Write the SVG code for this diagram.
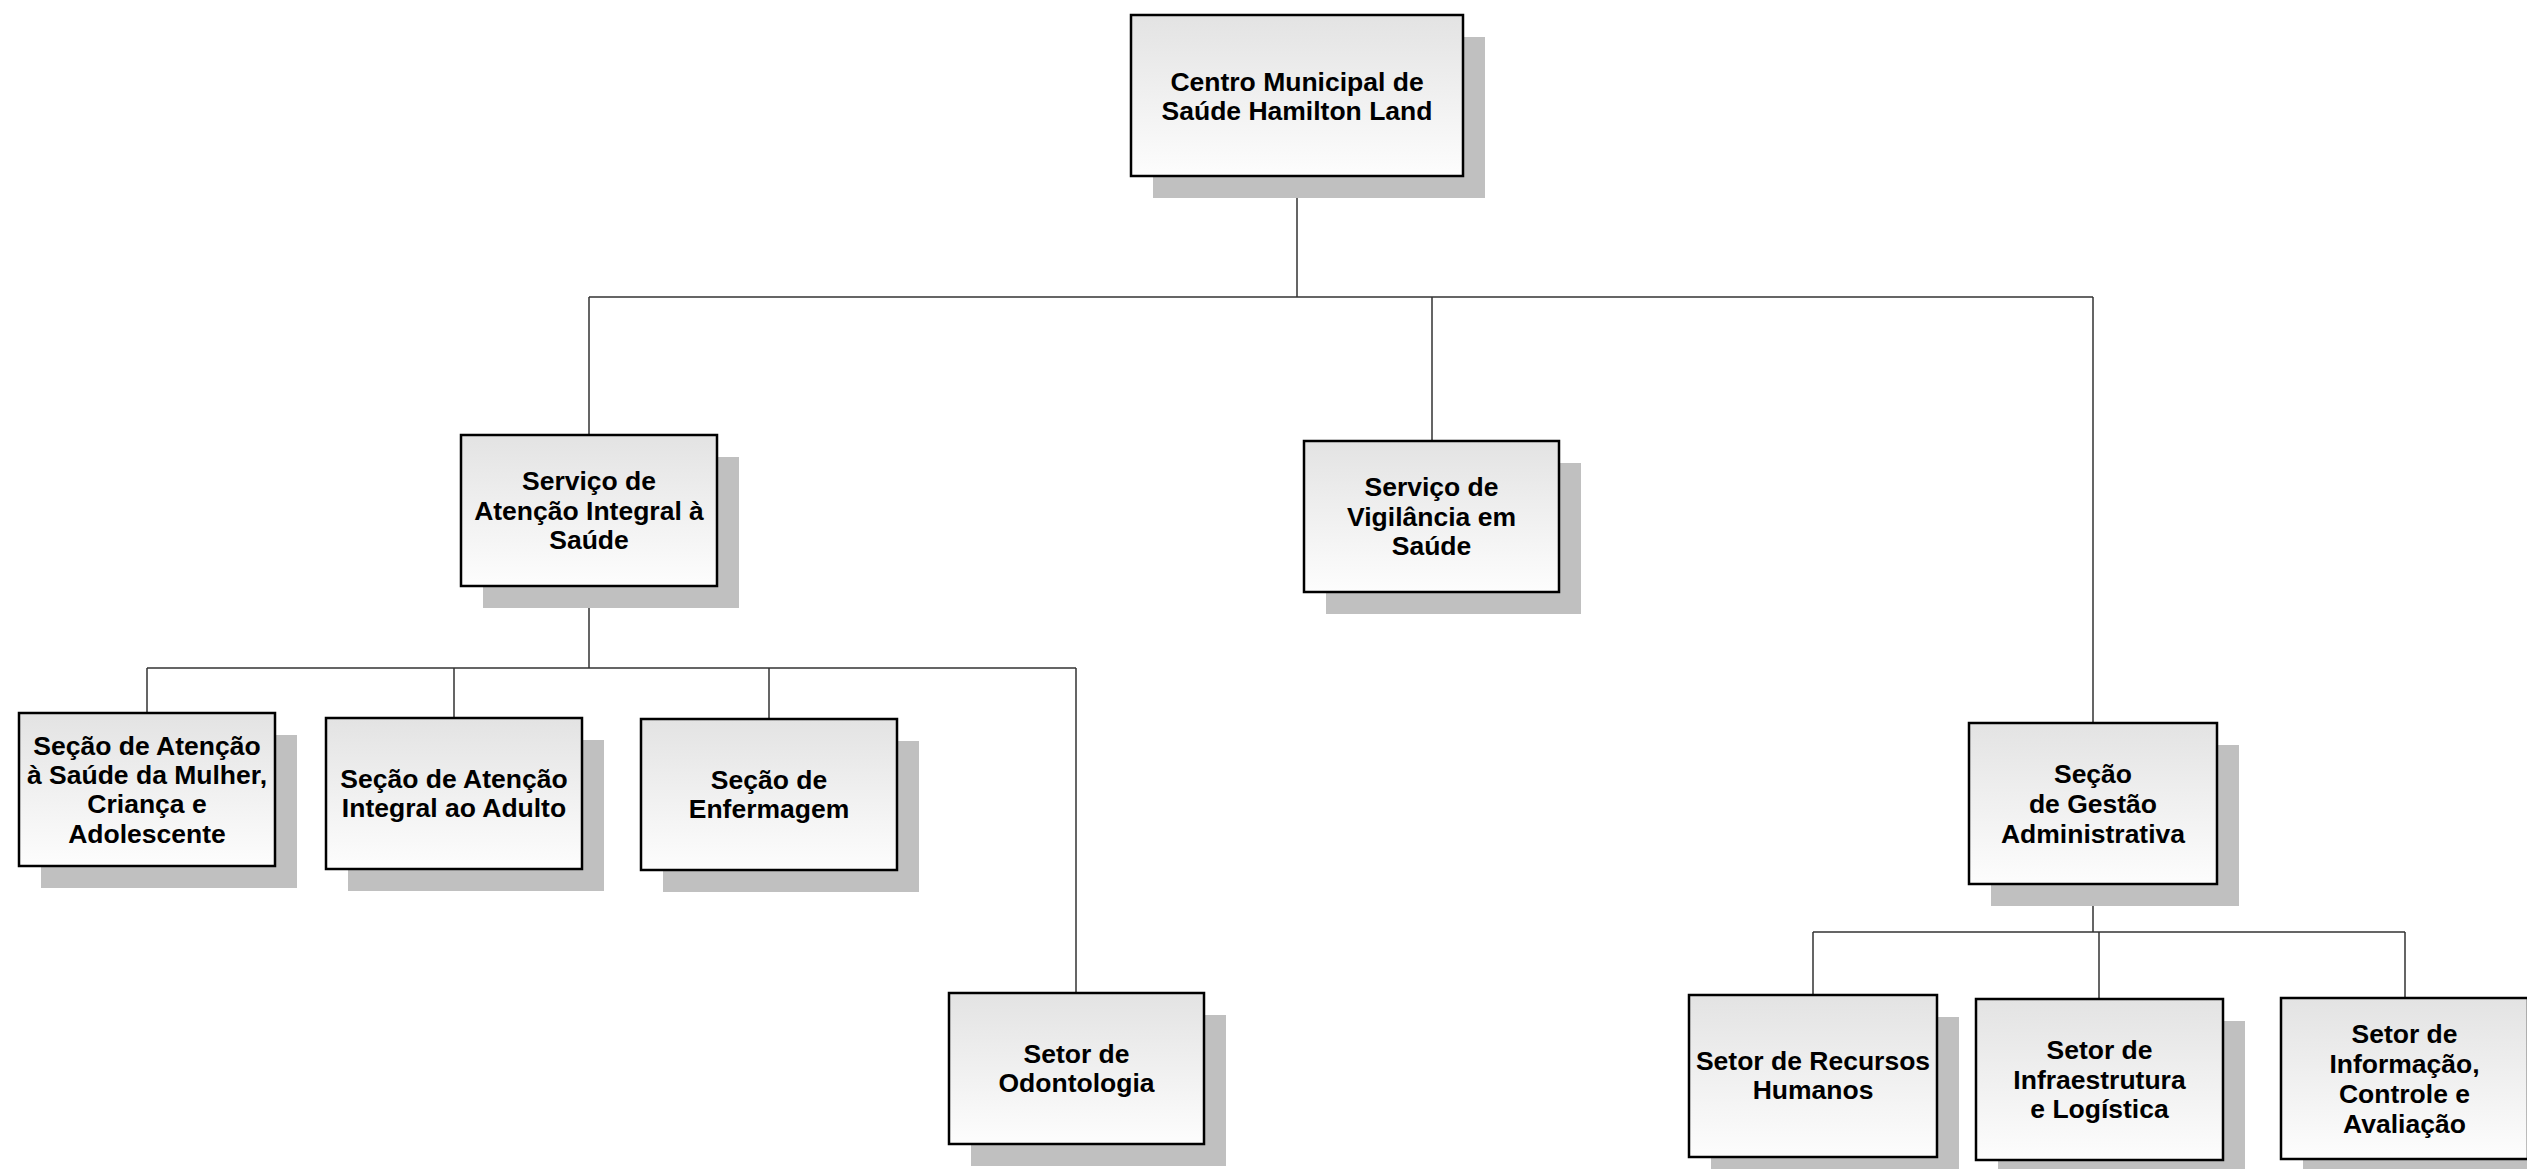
<svg xmlns="http://www.w3.org/2000/svg" width="2527" height="1169" viewBox="0 0 2527 1169">
<defs>
<linearGradient id="fill" x1="0" y1="0" x2="0" y2="1">
<stop offset="0" stop-color="#e3e3e3"/>
<stop offset="1" stop-color="#fdfdfd"/>
</linearGradient>
<style>
.shadow{fill:#c0c0c0;stroke:none}
.box{fill:url(#fill);stroke:#000;stroke-width:2.5}
.lbl{font-family:"Liberation Sans",Arial,sans-serif;font-weight:bold;font-size:26.5px;fill:#000;text-anchor:middle}
.conn{stroke:#333;stroke-width:1.5;fill:none}
</style>
</defs>
<rect width="2527" height="1169" fill="#fff"/>
<g id="connectors">
<path class="conn" d="M1297 176V297M589 297H2093M589 297V435M1432 297V441M2093 297V723"/>
<path class="conn" d="M589 586V668M147 668H1076M147 668V713M454 668V718M769 668V719M1076 668V993"/>
<path class="conn" d="M2093 884V932M1813 932H2405M1813 932V995M2099 932V999M2405 932V998"/>
</g>
<g id="root">
<rect class="shadow" x="1153" y="37" width="332" height="161"/>
<rect class="box" x="1131" y="15" width="332" height="161"/>
<text class="lbl" x="1297" y="91">Centro Municipal de</text>
<text class="lbl" x="1297" y="120">Saúde Hamilton Land</text>
</g>
<g id="sais">
<rect class="shadow" x="483" y="457" width="256" height="151"/>
<rect class="box" x="461" y="435" width="256" height="151"/>
<text class="lbl" x="589" y="490">Serviço de</text>
<text class="lbl" x="589" y="520">Atenção Integral à</text>
<text class="lbl" x="589" y="549">Saúde</text>
</g>
<g id="svs">
<rect class="shadow" x="1326" y="463" width="255" height="151"/>
<rect class="box" x="1304" y="441" width="255" height="151"/>
<text class="lbl" x="1431.5" y="496">Serviço de</text>
<text class="lbl" x="1431.5" y="526">Vigilância em</text>
<text class="lbl" x="1431.5" y="555">Saúde</text>
</g>
<g id="sga">
<rect class="shadow" x="1991" y="745" width="248" height="161"/>
<rect class="box" x="1969" y="723" width="248" height="161"/>
<text class="lbl" x="2093" y="783">Seção</text>
<text class="lbl" x="2093" y="813">de Gestão</text>
<text class="lbl" x="2093" y="843">Administrativa</text>
</g>
<g id="mulher">
<rect class="shadow" x="41" y="735" width="256" height="153"/>
<rect class="box" x="19" y="713" width="256" height="153"/>
<text class="lbl" x="147" y="755">Seção de Atenção</text>
<text class="lbl" x="147" y="784">à Saúde da Mulher,</text>
<text class="lbl" x="147" y="813">Criança e</text>
<text class="lbl" x="147" y="843">Adolescente</text>
</g>
<g id="adulto">
<rect class="shadow" x="348" y="740" width="256" height="151"/>
<rect class="box" x="326" y="718" width="256" height="151"/>
<text class="lbl" x="454" y="788">Seção de Atenção</text>
<text class="lbl" x="454" y="817">Integral ao Adulto</text>
</g>
<g id="enfermagem">
<rect class="shadow" x="663" y="741" width="256" height="151"/>
<rect class="box" x="641" y="719" width="256" height="151"/>
<text class="lbl" x="769" y="789">Seção de</text>
<text class="lbl" x="769" y="818">Enfermagem</text>
</g>
<g id="odontologia">
<rect class="shadow" x="971" y="1015" width="255" height="151"/>
<rect class="box" x="949" y="993" width="255" height="151"/>
<text class="lbl" x="1076.5" y="1063">Setor de</text>
<text class="lbl" x="1076.5" y="1092">Odontologia</text>
</g>
<g id="rh">
<rect class="shadow" x="1711" y="1017" width="248" height="162"/>
<rect class="box" x="1689" y="995" width="248" height="162"/>
<text class="lbl" x="1813" y="1070">Setor de Recursos</text>
<text class="lbl" x="1813" y="1099">Humanos</text>
</g>
<g id="infra">
<rect class="shadow" x="1998" y="1021" width="247" height="161"/>
<rect class="box" x="1976" y="999" width="247" height="161"/>
<text class="lbl" x="2099.5" y="1059">Setor de</text>
<text class="lbl" x="2099.5" y="1089">Infraestrutura</text>
<text class="lbl" x="2099.5" y="1118">e Logística</text>
</g>
<g id="info">
<rect class="shadow" x="2303" y="1020" width="247" height="161"/>
<rect class="box" x="2281" y="998" width="247" height="161"/>
<text class="lbl" x="2404.5" y="1043">Setor de</text>
<text class="lbl" x="2404.5" y="1073">Informação,</text>
<text class="lbl" x="2404.5" y="1103">Controle e</text>
<text class="lbl" x="2404.5" y="1133">Avaliação</text>
</g>
</svg>
